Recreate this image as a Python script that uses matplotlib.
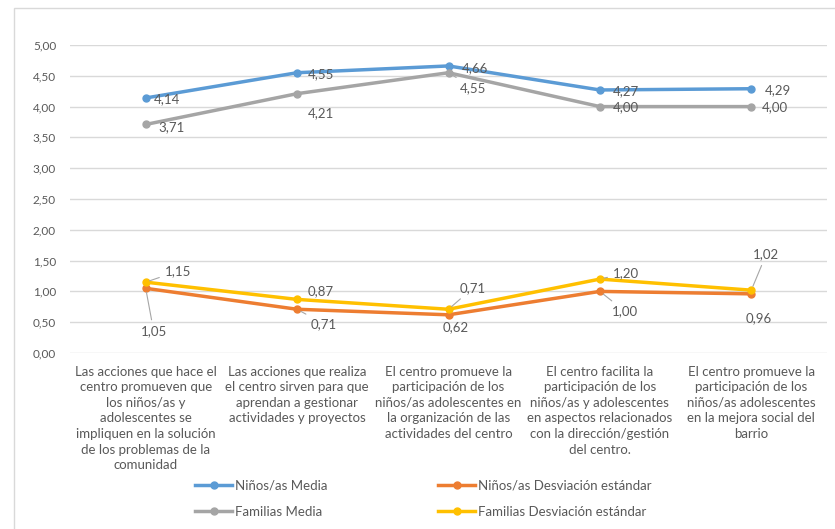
import matplotlib.pyplot as plt
from matplotlib.lines import Line2D
from matplotlib.patches import Rectangle

# data
categorias = [
    "Las acciones que hace el\ncentro promueven que\nlos niños/as y\nadolescentes se\nimpliquen en la solución\nde los problemas de la\ncomunidad",
    "Las acciones que realiza\nel centro sirven para que\naprendan a gestionar\nactividades y proyectos",
    "El centro promueve la\nparticipación de los\nniños/as adolescentes en\nla organización de las\nactividades del centro",
    "El centro facilita la\nparticipación de los\nniños/as y adolescentes\nen aspectos relacionados\ncon la dirección/gestión\ndel centro.",
    "El centro promueve la\nparticipación de los\nniños/as adolescentes\nen la mejora social del\nbarrio",
]
ninos_media = [4.14, 4.55, 4.66, 4.27, 4.29]
familias_media = [3.71, 4.21, 4.55, 4.00, 4.00]
ninos_de = [1.05, 0.71, 0.62, 1.00, 0.96]
familias_de = [1.15, 0.87, 0.71, 1.20, 1.02]
yticks = [0, 0.5, 1, 1.5, 2, 2.5, 3, 3.5, 4, 4.5, 5]

# legend order (column by column): medias first, then desviaciones
series = [
    ("Niños/as Media", ninos_media, "#5B9BD5"),
    ("Familias Media", familias_media, "#A5A5A5"),
    ("Niños/as Desviación estándar", ninos_de, "#ED7D31"),
    ("Familias Desviación estándar", familias_de, "#FFC000"),
]

# label offsets in pixels (dx, dy, ha, leader)
offsets = {
    "Niños/as Media": [(8, -1, "left", 0), (11, -1, "left", 0), (13, -2, "left", 0),
                       (13, -1, "left", 0), (14, -1, "left", 0)],
    "Familias Media": [(13, -3, "left", 0), (11, -19, "left", 0), (11, -15, "left", 1),
                       (13, -1, "left", 0), (11, -1, "left", 0)],
    "Niños/as Desviación estándar": [(8, -43, "center", 1), (14, -15, "left", 1), (7, -12, "center", 0),
                                     (12, -20, "left", 1), (-6, -24, "left", 0)],
    "Familias Desviación estándar": [(19, 11, "left", 1), (11, 8, "left", 0), (11, 21, "left", 1),
                                     (13, 6, "left", 1), (15, 36, "center", 1)],
}

plt.rcParams['font.family'] = ['Lato', 'DejaVu Sans']
txt = "#595959"

fig = plt.figure(figsize=(8.35, 5.29), dpi=100)
fig.patches.append(Rectangle((14 / 835, -0.1), 1.0, 1 - 8 / 529 + 0.1, transform=fig.transFigure,
                             fill=False, edgecolor="#D9D9D9", linewidth=1))
ax = fig.add_axes([70 / 835, 1 - 353 / 529, 757 / 835, 308 / 529])

x = list(range(len(categorias)))
for name, vals, col in series:
    z = 3 if "Media" in name else 2
    ax.plot(x, vals, color=col, linewidth=2.5, marker="o", markersize=5, zorder=z)
    for i, v in enumerate(vals):
        dx, dy, ha, lead = offsets[name][i]
        ax.annotate(f"{v:.2f}".replace(".", ","), (i, v), xytext=(dx, dy), textcoords="offset pixels",
                    ha=ha, va="center", fontsize=9.5, color=txt, zorder=4,
                    arrowprops=dict(arrowstyle="-", color="#A6A6A6", lw=0.8, shrinkA=2, shrinkB=3) if lead else None)

ax.set_xlim(-0.5, 4.5)
ax.set_ylim(0, 5)
ax.set_yticks(yticks)
ax.set_yticklabels([f"{t:.2f}".replace(".", ",") for t in yticks], fontsize=8.5, color=txt)
ax.set_xticks(x)
ax.set_xticklabels(categorias, fontsize=9.5, color=txt, linespacing=1.36, va="top")
ax.tick_params(length=0, pad=10)
ax.tick_params(axis="x", pad=9)
ax.grid(axis="y", color="#D9D9D9", linewidth=1)
for s in ax.spines.values():
    s.set_visible(False)

handles = [Line2D([], [], color=c, linewidth=2.5, marker="o", markersize=5) for _, _, c in series]
fig.legend(handles, [n for n, _, _ in series], ncol=2, loc="center",
           bbox_to_anchor=(0.507, 0.057), frameon=False, fontsize=9.5, labelcolor=txt,
           handlelength=2.8, handletextpad=0.2, columnspacing=8.4, labelspacing=1.1)

fig.savefig("out.png", dpi=100)
